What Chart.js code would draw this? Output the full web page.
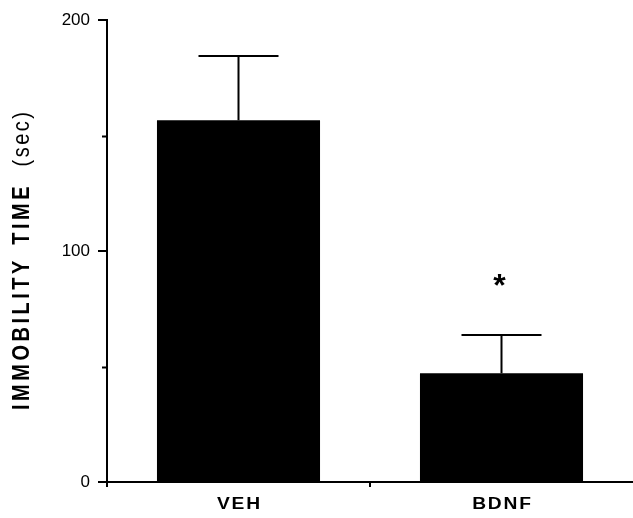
<!DOCTYPE html>
<html>
<head>
<meta charset="utf-8">
<script src="https://cdn.jsdelivr.net/npm/chart.js@4/dist/chart.umd.min.js"></script>
<style>
  html, body { margin: 0; padding: 0; background: #fff; overflow: hidden; }
  #wrap { width: 633px; height: 518px; }
  canvas { display: block; }
</style>
</head>
<body>
<div id="wrap"><canvas id="immobilityChart" width="633" height="518"></canvas></div>
<script>
// 資料
const categories = ["VEH", "BDNF"];      // 組別
const meanTime = [156.6, 47.1];          // 不動時間平均 (sec)
const semTime = [27.8, 16.5];            // 誤差 (上方)
const significant = [false, true];       // 是否標星號
const minorTicks = [50, 150];            // 沒有文字的短刻度

const FONT = "'Liberation Sans', Arial, Helvetica, sans-serif";
const STRETCH = 1.2; // 原圖文字橫向較寬

// 逐字寬度加上字距
function spacedWidth(ctx, text, spacing) {
  return ctx.measureText(text).width + spacing * (text.length - 1);
}

// 逐字畫出，自己加字距
function drawSpaced(ctx, text, x, y, spacing) {
  let cx = x;
  for (const ch of text) {
    ctx.fillText(ch, cx, y);
    cx += ctx.measureText(ch).width + spacing;
  }
}

/**
 * 誤差線、星號、短刻度、X 軸文字、Y 軸標題
 */
const extrasPlugin = {
  id: "extras",
  afterDatasetsDraw(chart) {
    const ctx = chart.ctx;
    const yScale = chart.scales.y;
    const meta = chart.getDatasetMeta(0);
    ctx.save();
    ctx.strokeStyle = "#000";
    ctx.fillStyle = "#000";
    ctx.lineWidth = 2;
    meta.data.forEach((bar, i) => {
      const x = bar.x;
      const yMean = yScale.getPixelForValue(meanTime[i]);
      const yTop = yScale.getPixelForValue(meanTime[i] + semTime[i]);
      ctx.beginPath();
      ctx.moveTo(x, yMean);
      ctx.lineTo(x, yTop);
      ctx.moveTo(x - 40, yTop);
      ctx.lineTo(x + 40, yTop);
      ctx.stroke();

      if (significant[i]) {
        ctx.font = "bold 32px " + FONT;
        ctx.textAlign = "center";
        ctx.textBaseline = "alphabetic";
        const m = ctx.measureText("*");
        const cy = yTop - 55;
        ctx.fillText("*", x - 2, cy + (m.actualBoundingBoxAscent - m.actualBoundingBoxDescent) / 2);
      }
    });

    // 短刻度
    ctx.lineWidth = 2;
    ctx.beginPath();
    minorTicks.forEach(v => {
      const y = Math.round(yScale.getPixelForValue(v)) + 0.5;
      ctx.moveTo(chart.chartArea.left - 5, y);
      ctx.lineTo(chart.chartArea.left, y);
    });
    ctx.stroke();
    ctx.restore();
  },
  afterDraw(chart) {
    const ctx = chart.ctx;
    const xScale = chart.scales.x;
    ctx.save();
    ctx.fillStyle = "#000";
    ctx.textBaseline = "alphabetic";
    ctx.textAlign = "left";

    // X 軸組別文字
    ctx.font = "bold 16px " + FONT;
    categories.forEach((cat, i) => {
      const w = spacedWidth(ctx, cat, 1.5) * STRETCH;
      ctx.save();
      ctx.translate(xScale.getPixelForValue(i) - w / 2, 509);
      ctx.scale(STRETCH, 1);
      drawSpaced(ctx, cat, 0, 0, 1.5);
      ctx.restore();
    });

    // Y 軸標題（旋轉）
    ctx.translate(29, 410);
    ctx.scale(STRETCH, 1);
    ctx.rotate(-Math.PI / 2);
    ctx.font = "bold 20px " + FONT;
    drawSpaced(ctx, "IMMOBILITY", 0, 0, 3.5);
    let pos = spacedWidth(ctx, "IMMOBILITY", 3.5) + 16;
    drawSpaced(ctx, "TIME", pos, 0, 3.5);
    pos += spacedWidth(ctx, "TIME", 3.5) + 20;
    ctx.font = "20px " + FONT;
    drawSpaced(ctx, "(sec)", pos, 0, 2.5);
    ctx.restore();
  }
};

window.onload = function () {
  const ctx = document.getElementById("immobilityChart").getContext("2d");
  new Chart(ctx, {
    type: "bar",
    data: {
      labels: categories,
      datasets: [{
        data: meanTime,
        backgroundColor: "#000",
        borderWidth: 0,
        barPercentage: 0.62,
        categoryPercentage: 1.0
      }]
    },
    options: {
      responsive: false,
      animation: false,
      devicePixelRatio: 1,
      layout: { padding: { top: 20, right: 0, bottom: 0, left: 0 } },
      plugins: {
        legend: { display: false },
        tooltip: { enabled: false }
      },
      scales: {
        x: {
          offset: true,
          grid: {
            offset: true,
            drawOnChartArea: false,
            drawTicks: true,
            tickLength: 5,
            tickColor: c => (c.type === "tick" ? "#000" : "rgba(0,0,0,0)"),
            color: "#000",
            lineWidth: 2
          },
          border: { display: true, color: "#000", width: 2 },
          ticks: { display: false },
          afterFit(scale) { scale.height = 36; }
        },
        y: {
          min: 0,
          max: 200,
          grid: {
            drawOnChartArea: false,
            drawTicks: true,
            tickLength: 9,
            color: "#000",
            lineWidth: 2
          },
          border: { display: true, color: "#000", width: 2 },
          ticks: {
            stepSize: 100,
            color: "#000",
            padding: 8,
            font: { family: FONT, size: 17 }
          },
          afterFit(scale) { scale.width = 107; }
        }
      }
    },
    plugins: [extrasPlugin]
  });
};
</script>
</body>
</html>
